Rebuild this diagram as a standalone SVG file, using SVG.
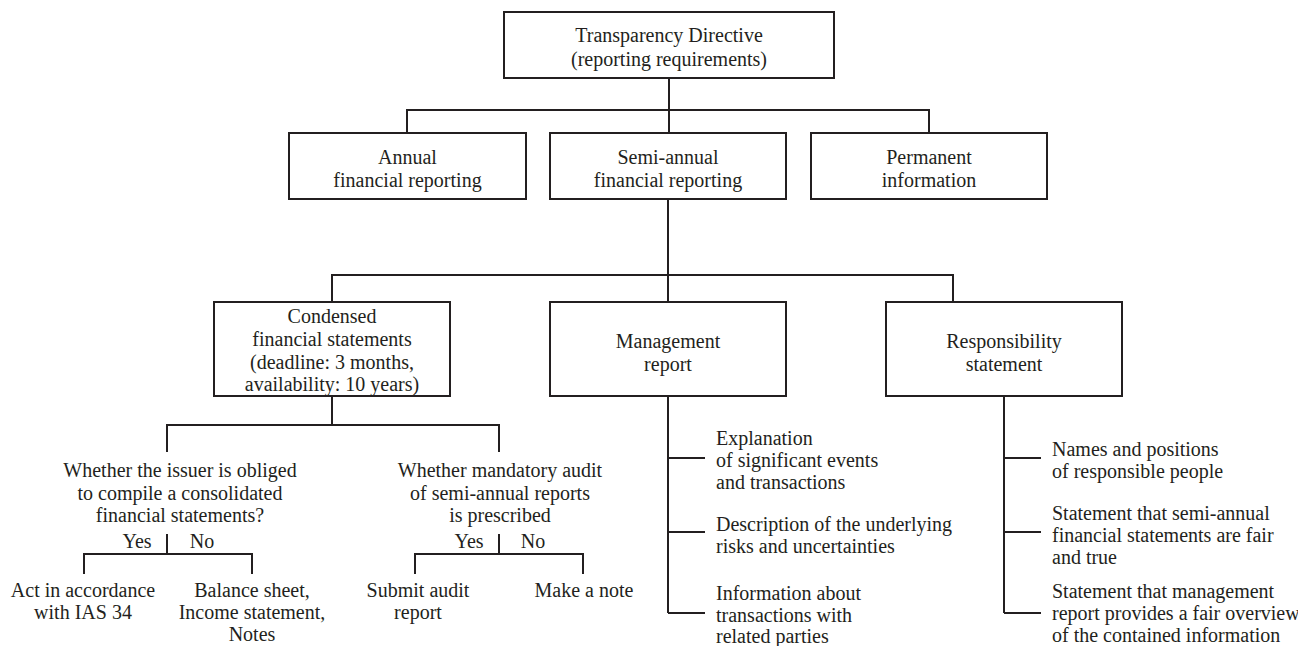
<svg xmlns="http://www.w3.org/2000/svg" width="1298" height="646" viewBox="0 0 1298 646">
<style>
.box{fill:#fff;stroke:#231f20;stroke-width:2}
.ln{fill:none;stroke:#231f20;stroke-width:2}
text{font-family:"Liberation Serif","Times New Roman",serif;font-size:20px;fill:#231f20}
.c{text-anchor:middle}
</style>
<rect width="1298" height="646" fill="#fff"/>
<g id="connectors" class="ln">
<path d="M669 78V110M407 133V110H929V133M669 110V133"/>
<path d="M668 199V275M332 302V275H953V302M668 275V302"/>
<path d="M332 396V425M167 452V425H499V452"/>
<path d="M167 534V554M84 574V554H252V574"/>
<path d="M499 534V554M415 574V554H583V574"/>
<path d="M668 396V613M668 458H705M668 532H705M668 613H705"/>
<path d="M1004 396V613M1004 458H1041M1004 532H1041M1004 613H1041"/>
</g>
<g id="n-top"><rect class="box" x="504" y="12" width="330" height="66"/>
<text class="c" x="669" y="42">Transparency Directive</text>
<text class="c" x="669" y="66">(reporting requirements)</text></g>
<g id="n-annual"><rect class="box" x="289" y="133" width="237" height="66"/>
<text class="c" x="407.5" y="164">Annual</text>
<text class="c" x="407.5" y="187">financial reporting</text></g>
<g id="n-semi"><rect class="box" x="550" y="133" width="236" height="66"/>
<text class="c" x="668" y="164">Semi-annual</text>
<text class="c" x="668" y="187">financial reporting</text></g>
<g id="n-perm"><rect class="box" x="811" y="133" width="236" height="66"/>
<text class="c" x="929" y="164">Permanent</text>
<text class="c" x="929" y="187">information</text></g>
<g id="n-condensed"><rect class="box" x="214" y="302" width="236" height="94"/>
<text class="c" x="332" y="323">Condensed</text>
<text class="c" x="332" y="346">financial statements</text>
<text class="c" x="332" y="369">(deadline: 3 months,</text>
<text class="c" x="332" y="391">availability: 10 years)</text></g>
<g id="n-mgmt"><rect class="box" x="550" y="302" width="236" height="94"/>
<text class="c" x="668" y="348">Management</text>
<text class="c" x="668" y="371">report</text></g>
<g id="n-resp"><rect class="box" x="886" y="302" width="236" height="94"/>
<text class="c" x="1004" y="348">Responsibility</text>
<text class="c" x="1004" y="371">statement</text></g>
<g id="n-q1">
<text class="c" x="180" y="477">Whether the issuer is obliged</text>
<text class="c" x="180" y="500">to compile a consolidated</text>
<text class="c" x="180" y="522">financial statements?</text>
<text class="c" x="137" y="548">Yes</text>
<text class="c" x="202" y="548">No</text></g>
<g id="n-q2">
<text class="c" x="500" y="477">Whether mandatory audit</text>
<text class="c" x="500" y="500">of semi-annual reports</text>
<text class="c" x="500" y="522">is prescribed</text>
<text class="c" x="469" y="548">Yes</text>
<text class="c" x="533" y="548">No</text></g>
<g id="n-ias"><text class="c" x="83" y="597">Act in accordance</text><text class="c" x="83" y="619">with IAS 34</text></g>
<g id="n-bs"><text class="c" x="252" y="597">Balance sheet,</text><text class="c" x="252" y="619">Income statement,</text><text class="c" x="252" y="641">Notes</text></g>
<g id="n-audit"><text class="c" x="418" y="597">Submit audit</text><text class="c" x="418" y="619">report</text></g>
<g id="n-note"><text class="c" x="584" y="597">Make a note</text></g>
<g id="n-m1"><text x="716" y="445">Explanation</text><text x="716" y="467">of significant events</text><text x="716" y="489">and transactions</text></g>
<g id="n-m2"><text x="716" y="531">Description of the underlying</text><text x="716" y="553">risks and uncertainties</text></g>
<g id="n-m3"><text x="716" y="600">Information about</text><text x="716" y="622">transactions with</text><text x="716" y="643">related parties</text></g>
<g id="n-r1"><text x="1052" y="456">Names and positions</text><text x="1052" y="478">of responsible people</text></g>
<g id="n-r2"><text x="1052" y="520">Statement that semi-annual</text><text x="1052" y="542">financial statements are fair</text><text x="1052" y="564">and true</text></g>
<g id="n-r3"><text x="1052" y="598">Statement that management</text><text x="1052" y="620">report provides a fair overview</text><text x="1052" y="642">of the contained information</text></g>
</svg>
